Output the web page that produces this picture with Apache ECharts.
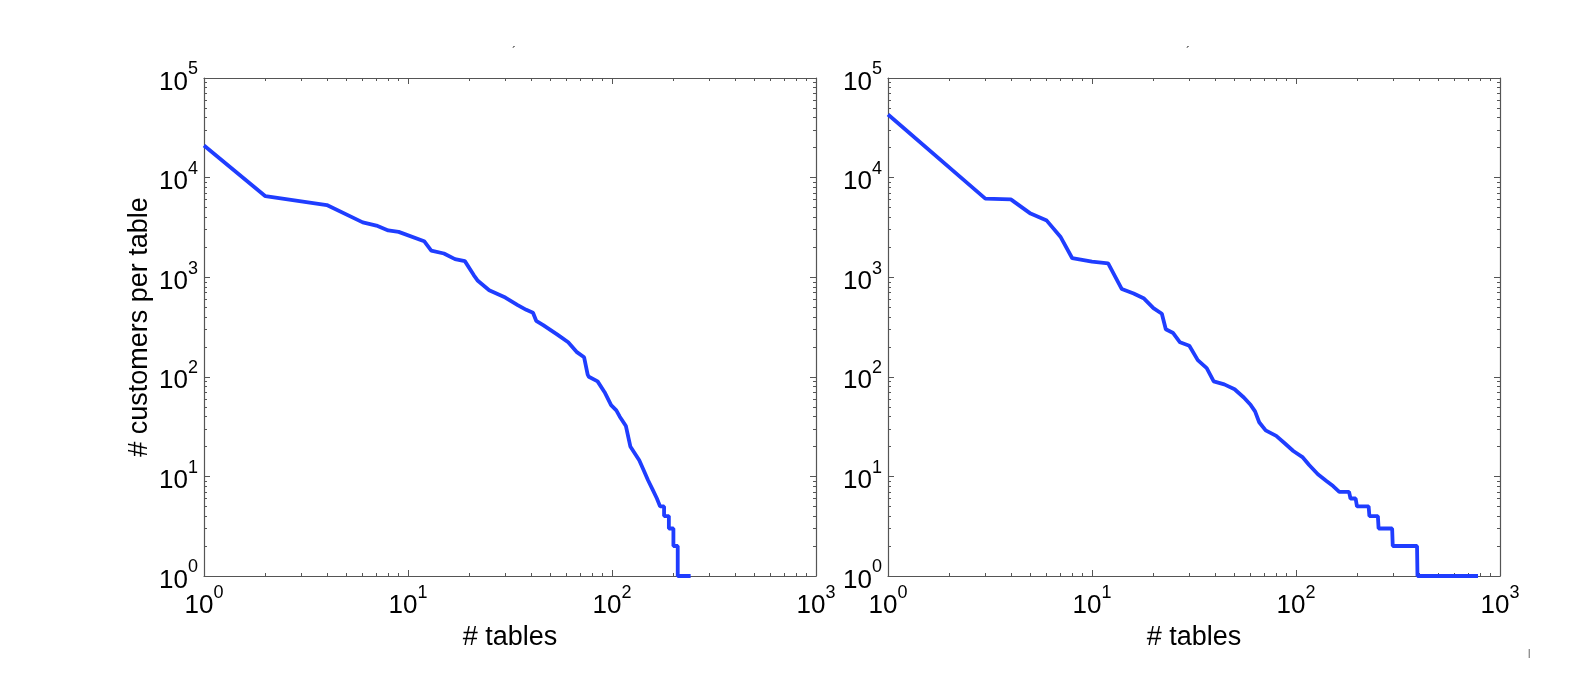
<!DOCTYPE html>
<html>
<head>
<meta charset="utf-8">
<script src="https://cdn.jsdelivr.net/npm/echarts@6/dist/echarts.min.js"></script>
<style>
  html, body { margin: 0; padding: 0; background: #fff; }
  #chart { width: 1592px; height: 682px; }
</style>
</head>
<body>
<div id="chart"></div>
<script>
// left panel: rank of table vs customers at that table
const leftTables = [1, 2, 4, 6, 7, 8, 9, 12, 13, 15, 17, 19, 21, 22, 25, 30, 34.5, 38, 41, 42.5, 46, 54, 61, 67, 73, 76, 77, 85, 92, 99, 105, 109, 117, 123, 136, 143, 150, 158, 166, 172, 180, 180, 190, 190, 200, 200, 210, 210, 243]
const leftCustomers = [21000, 6500, 5300, 3550, 3300, 2950, 2850, 2300, 1850, 1730, 1520, 1450, 1050, 920, 740, 625, 525, 470, 440, 365, 330, 265, 222, 178, 157, 105, 100, 90, 70, 52, 46, 40, 32, 20, 14.5, 11.5, 9.2, 7.4, 6, 5, 5, 4, 4, 3, 3, 2, 2, 1, 1]

// right panel
const rightTables = [1, 3, 4, 5, 6, 7, 8, 10, 12, 14, 16, 18, 20, 22, 23, 25, 27, 30, 33, 36.5, 39.5, 44.5, 50, 55.5, 60, 63, 66, 71, 80, 88, 97, 108, 116, 128, 141, 152, 163, 182, 185, 196, 199, 227, 229, 252, 254, 296, 298, 392, 394, 780]
const rightCustomers = [43000, 6150, 6050, 4350, 3700, 2550, 1550, 1430, 1380, 760, 685, 610, 490, 430, 300, 275, 222, 205, 147, 122, 90, 84, 75, 62, 52, 45, 35, 29, 25.5, 21.5, 18, 15.5, 13, 10.5, 9, 8, 7, 7, 6, 6, 5, 5, 4, 4, 3, 3, 2, 2, 1, 1]

// axis ranges (decades) and minor tick positions in log space
const xDecades = 3
const yDecades = 5
const minorSteps = [2, 3, 4, 5, 6, 7, 8, 9]

const chart = echarts.init(document.getElementById('chart'))

const fontFamily = 'Liberation Sans, Arial, sans-serif'
const boxColor = '#555'

function minorValues(decades){
  const out = []
  for (let d = 0; d < decades; d++) {
    minorSteps.forEach(s => out.push(d + Math.log10(s)))
  }
  return out
}

function powLabel(v){
  const e = Math.round(Math.log10(v))
  return '{b|10}{s|' + e + '}'
}

const labelRich = {
  b: { fontSize: 26, fontFamily: fontFamily, color: '#000', padding: [9, 0, 0, 0] },
  s: { fontSize: 18, fontFamily: fontFamily, color: '#000', verticalAlign: 'top' }
}

// main log axis (data + major ticks), optionally with labels
function logAxis(gridIndex, position, max, showLabel){
  return {
    type: 'log',
    logBase: 10,
    gridIndex: gridIndex,
    position: position,
    min: 1,
    max: max,
    splitLine: { show: false },
    axisLine: { show: true, onZero: false, lineStyle: { color: boxColor, width: 1.2 } },
    axisTick: { show: true, inside: true, length: 6, lineStyle: { color: boxColor } },
    axisLabel: {
      show: showLabel,
      formatter: powLabel,
      rich: labelRich,
      margin: 6
    }
  }
}

// decoration-only axis carrying the minor log ticks
function minorAxis(gridIndex, position, decades){
  return {
    type: 'value',
    gridIndex: gridIndex,
    position: position,
    min: 0,
    max: decades,
    splitLine: { show: false },
    axisLine: { show: false, onZero: false },
    axisLabel: { show: false },
    axisTick: {
      show: true,
      inside: true,
      length: 3,
      customValues: minorValues(decades),
      lineStyle: { color: boxColor }
    }
  }
}

const xAxes = []
const yAxes = []
for (let g = 0; g < 2; g++) {
  const xb = logAxis(g, 'bottom', 1000, true)
  xb.axisLabel.margin = 8
  xb.name = '# tables'
  xb.nameLocation = 'middle'
  xb.nameGap = 46
  xb.nameTextStyle = { fontSize: 27, fontFamily: fontFamily, color: '#000' }
  xAxes.push(xb)
  xAxes.push(logAxis(g, 'top', 1000, false))
  xAxes.push(minorAxis(g, 'bottom', xDecades))
  xAxes.push(minorAxis(g, 'top', xDecades))

  const yl = logAxis(g, 'left', 100000, true)
  if (g === 0) {
    yl.name = '# customers per table'
    yl.nameLocation = 'middle'
    yl.nameGap = 51
    yl.nameTextStyle = { fontSize: 27, fontFamily: fontFamily, color: '#000' }
  }
  yAxes.push(yl)
  yAxes.push(logAxis(g, 'right', 100000, false))
  yAxes.push(minorAxis(g, 'left', yDecades))
  yAxes.push(minorAxis(g, 'right', yDecades))
}

function pairs(xs, ys){
  return xs.map((x, i) => [x, ys[i]])
}

const lineStyle = { color: '#1f3dff', width: 3.8 }

const option = {
  backgroundColor: '#fff',
  animation: false,
  title: [
    { text: '\u00b4', left: 507, top: 42, textStyle: { fontSize: 12, color: '#333', fontWeight: 'normal' } },
    { text: '\u00b4', left: 1181, top: 42, textStyle: { fontSize: 12, color: '#333', fontWeight: 'normal' } },
    { text: '|', left: 1523, top: 644, textStyle: { fontSize: 9, color: '#333', fontWeight: 'normal' } }
  ],
  grid: [
    { left: 204, top: 78, width: 612, height: 498 },
    { left: 888, top: 78, width: 612, height: 498 }
  ],
  xAxis: xAxes,
  yAxis: yAxes,
  series: [
    {
      type: 'line',
      xAxisIndex: 0,
      yAxisIndex: 0,
      data: pairs(leftTables, leftCustomers),
      showSymbol: false,
      lineStyle: lineStyle
    },
    {
      type: 'line',
      xAxisIndex: 4,
      yAxisIndex: 4,
      data: pairs(rightTables, rightCustomers),
      showSymbol: false,
      lineStyle: lineStyle
    }
  ]
}
chart.setOption(option)
</script>
</body>
</html>
